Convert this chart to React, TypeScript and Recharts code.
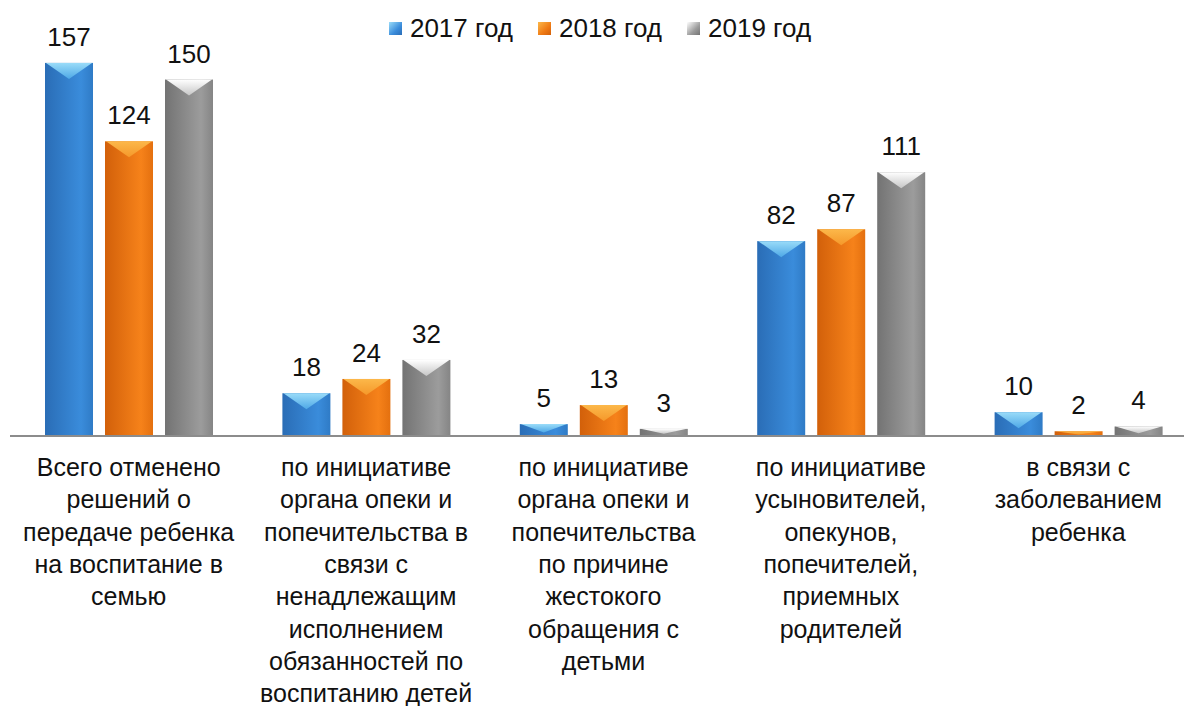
import { Bar, BarChart, LabelList, Legend, XAxis, YAxis } from "recharts";

const categories = [
  "Всего отменено\nрешений о\nпередаче ребенка\nна воспитание в\nсемью",
  "по инициативе\nоргана опеки и\nпопечительства в\nсвязи с\nненадлежащим\nисполнением\nобязанностей по\nвоспитанию детей",
  "по инициативе\nоргана опеки и\nпопечительства\nпо причине\nжестокого\nобращения с\nдетьми",
  "по инициативе\nусыновителей,\nопекунов,\nпопечителей,\nприемных\nродителей",
  "в связи с\nзаболеванием\nребенка",
];

const values2017 = [157, 18, 5, 82, 10];
const values2018 = [124, 24, 13, 87, 2];
const values2019 = [150, 32, 3, 111, 4];

const seriesNames = ["2017 год", "2018 год", "2019 год"];

const data = categories.map((name, i) => ({
  name,
  y2017: values2017[i],
  y2018: values2018[i],
  y2019: values2019[i],
}));

const FONT = "'Liberation Sans', Arial, Helvetica, sans-serif";

// body gradient (left -> right) and top bevel gradient for each series
const palettes = [
  { key: "blue", body: ["#2a6db6", "#3a8cdb", "#2f7bc6"], top: ["#9adcf9", "#4ea8e6"], icon: "#3a8cdb" },
  { key: "orange", body: ["#d2600a", "#f6821a", "#e4700f"], top: ["#fcb84a", "#f5982a"], icon: "#ef7a14" },
  { key: "gray", body: ["#737373", "#9c9c9c", "#858585"], top: ["#ffffff", "#c6c6c6"], icon: "#9c9c9c" },
];

function bevelShape(key: string) {
  return (props: any) => {
    const { x, y, width, height } = props;
    if (!height || height <= 0) return <g />;
    const depth = Math.min(16, height * 0.7);
    return (
      <g>
        <rect x={x} y={y} width={width} height={height} fill={`url(#body-${key})`} />
        <polygon
          points={`${x + 1},${y} ${x + width - 1},${y} ${x + width / 2},${y + depth}`}
          fill={`url(#top-${key})`}
        />
      </g>
    );
  };
}

const renderValue = (props: any) => {
  const { x, y, width, value } = props;
  return (
    <text x={x + width / 2} y={y - 17} textAnchor="middle" fontSize={26} fontFamily={FONT} fill="#111">
      {value}
    </text>
  );
};

function CategoryTick({ x, y, payload }: any) {
  const lines = String(payload.value).split("\n");
  return (
    <text x={x} y={y} textAnchor="middle" fontSize={25} fontFamily={FONT} fill="#111">
      {lines.map((line, i) => (
        <tspan key={i} x={x} dy={i === 0 ? 40 : 32.3}>
          {line}
        </tspan>
      ))}
    </text>
  );
}

function LegendRow() {
  return (
    <div style={{ display: "flex", justifyContent: "center", gap: 25, fontFamily: FONT, fontSize: 26, color: "#111" }}>
      {seriesNames.map((name, i) => (
        <div key={name} style={{ display: "flex", alignItems: "center", gap: 8 }}>
          <span
            style={{
              width: 13,
              height: 13,
              display: "inline-block",
              background: `linear-gradient(135deg, ${palettes[i].top[0]}, ${palettes[i].icon} 60%, ${palettes[i].body[0]})`,
            }}
          />
          <span>{name}</span>
        </div>
      ))}
    </div>
  );
}

export default function App() {
  const keys = ["y2017", "y2018", "y2019"];
  return (
    <div style={{ position: "fixed", left: 0, top: 0, width: 1184, height: 706, overflow: "hidden", background: "#fff" }}>
      <BarChart
        width={1200}
        height={706}
        data={data}
        margin={{ top: 32, right: 3, left: 10, bottom: 0 }}
        barSize={48}
        barGap={12}
      >
        <defs>
          {palettes.map((p) => (
            <linearGradient key={`b-${p.key}`} id={`body-${p.key}`} x1="0" y1="0" x2="1" y2="0">
              <stop offset="0%" stopColor={p.body[0]} />
              <stop offset="75%" stopColor={p.body[1]} />
              <stop offset="100%" stopColor={p.body[2]} />
            </linearGradient>
          ))}
          {palettes.map((p) => (
            <linearGradient key={`t-${p.key}`} id={`top-${p.key}`} x1="0" y1="0" x2="0" y2="1">
              <stop offset="0%" stopColor={p.top[0]} />
              <stop offset="100%" stopColor={p.top[1]} />
            </linearGradient>
          ))}
        </defs>
        <XAxis
          dataKey="name"
          interval={0}
          tickLine={false}
          tickSize={0}
          tickMargin={0}
          height={270}
          axisLine={{ stroke: "#8c8c8c", strokeWidth: 2 }}
          tick={<CategoryTick />}
        />
        <YAxis hide domain={[0, 170]} />
        <Legend
          verticalAlign="middle"
          align="center"
          layout="horizontal"
          wrapperStyle={{ top: 13, left: 0, width: 1200 }}
          content={() => <LegendRow />}
        />
        {keys.map((k, i) => (
          <Bar
            key={k}
            dataKey={k}
            name={seriesNames[i]}
            fill={palettes[i].icon}
            shape={bevelShape(palettes[i].key)}
            isAnimationActive={false}
          >
            <LabelList dataKey={k} content={renderValue} />
          </Bar>
        ))}
      </BarChart>
    </div>
  );
}
